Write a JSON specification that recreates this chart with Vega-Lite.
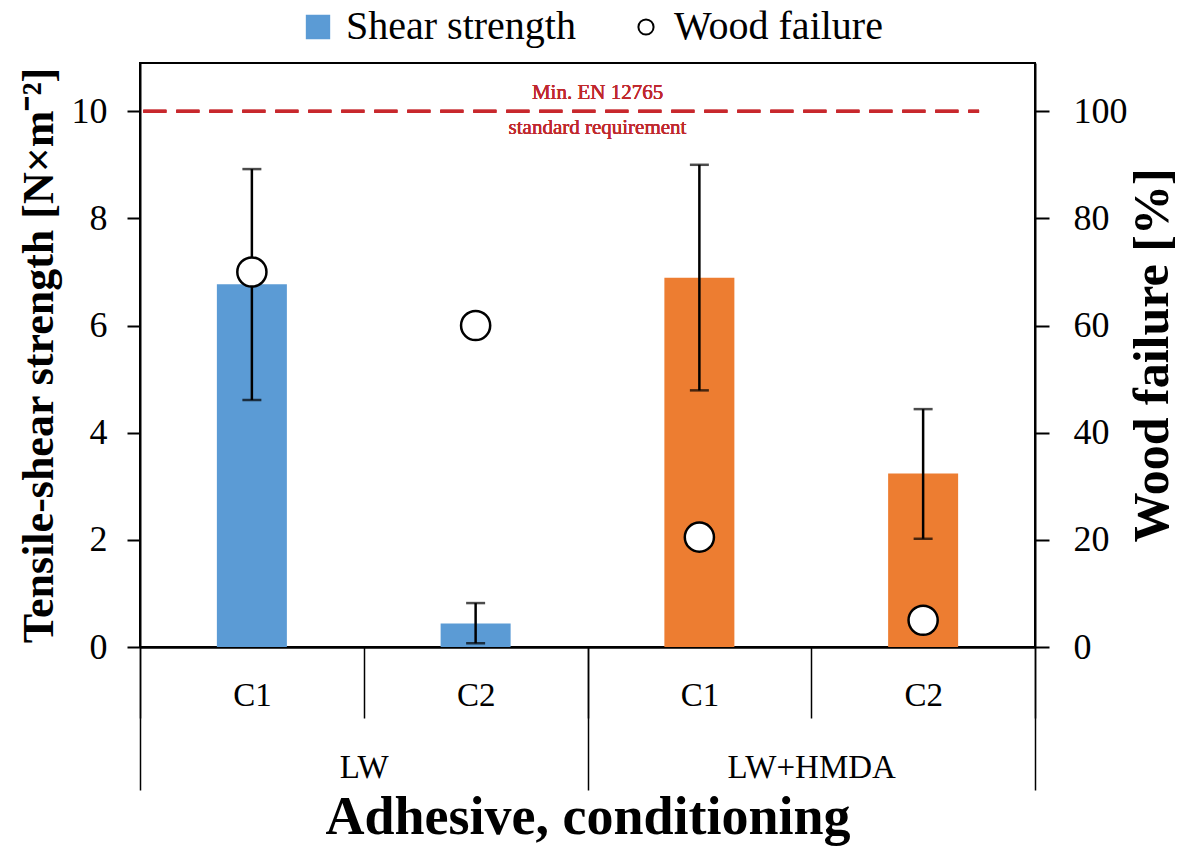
{
  "$schema": "https://vega.github.io/schema/vega-lite/v6.json",
  "width": 895,
  "height": 584,
  "autosize": {"type": "none"},
  "padding": {"left": 140, "top": 63, "right": 146, "bottom": 210},
  "background": "white",
  "config": {
    "font": "Liberation Serif",
    "view": {"stroke": "black", "strokeWidth": 2}
  },
  "data": {
    "values": [
      {"group": "LW", "cond": "C1", "key": "LW|C1", "shear": 6.77, "lo": 4.61, "hi": 8.92, "wf": 70},
      {"group": "LW", "cond": "C2", "key": "LW|C2", "shear": 0.44, "lo": 0.07, "hi": 0.82, "wf": 60},
      {"group": "LW+HMDA", "cond": "C1", "key": "LW+HMDA|C1", "shear": 6.89, "lo": 4.79, "hi": 9.0, "wf": 20.5},
      {"group": "LW+HMDA", "cond": "C2", "key": "LW+HMDA|C2", "shear": 3.24, "lo": 2.02, "hi": 4.44, "wf": 5}
    ]
  },
  "layer": [
    {
      "encoding": {
        "x": {
          "field": "key", "type": "nominal",
          "scale": {"domain": ["LW|C1", "LW|C2", "LW+HMDA|C1", "LW+HMDA|C2"], "paddingInner": 0, "paddingOuter": 0},
          "axis": {
            "orient": "bottom", "title": null,
            "labelExpr": "split(datum.value, '|')[1]",
            "labelAngle": 0, "labelFontSize": 33, "labelColor": "black", "labelFont": "Liberation Serif",
            "labelBaseline": "middle", "labelPadding": -23,
            "tickBand": "extent", "tickSize": 71, "tickWidth": 1.5, "tickColor": "black",
            "domainColor": "black", "domainWidth": 2
          }
        }
      },
      "layer": [
        {
          "mark": {"type": "bar", "width": 70},
          "encoding": {
            "y": {
              "field": "shear", "type": "quantitative",
              "scale": {"domain": [0, 10.9], "nice": false, "zero": true},
              "axis": {
                "orient": "left",
                "title": "Tensile-shear strength [N×m⁻²]",
                "titleFontSize": 44, "titleFontWeight": "bold", "titleColor": "black", "titleFont": "Liberation Serif",
                "titlePadding": 10,
                "values": [0, 2, 4, 6, 8, 10], "grid": false,
                "labelFontSize": 36, "labelColor": "black", "labelPadding": 20,
                "tickSize": 13, "tickWidth": 2, "tickColor": "black",
                "domainColor": "black", "domainWidth": 2
              }
            },
            "color": {
              "field": "group", "type": "nominal",
              "scale": {"domain": ["LW", "LW+HMDA"], "range": ["#5B9BD5", "#ED7D31"]},
              "legend": null
            }
          }
        },
        {
          "mark": {"type": "rule", "color": "black", "strokeWidth": 2.5},
          "encoding": {
            "y": {"field": "lo", "type": "quantitative", "scale": {"domain": [0, 10.9], "nice": false}},
            "y2": {"field": "hi"}
          }
        },
        {
          "mark": {"type": "tick", "color": "black", "size": 19, "thickness": 2.5},
          "encoding": {
            "y": {"field": "hi", "type": "quantitative", "scale": {"domain": [0, 10.9], "nice": false}}
          }
        },
        {
          "mark": {"type": "tick", "color": "black", "size": 19, "thickness": 2.5},
          "encoding": {
            "y": {"field": "lo", "type": "quantitative", "scale": {"domain": [0, 10.9], "nice": false}}
          }
        },
        {
          "mark": {"type": "rule", "color": "#C8282D", "strokeWidth": 3, "strokeDash": [23, 10]},
          "encoding": {
            "x": {"datum": "LW|C1", "bandPosition": 0.015},
            "x2": {"datum": "LW+HMDA|C2", "bandPosition": 0.75},
            "y": {"datum": 10, "type": "quantitative", "scale": {"domain": [0, 10.9], "nice": false}}
          }
        },
        {
          "mark": {"type": "text", "color": "#C0282D", "fontSize": 21, "font": "Liberation Serif", "dy": -18, "dx": 10, "baseline": "middle"},
          "encoding": {
            "x": {"datum": "LW+HMDA|C1", "bandPosition": 0},
            "y": {"datum": 10, "type": "quantitative", "scale": {"domain": [0, 10.9], "nice": false}},
            "text": {"value": "Min. EN 12765"}
          }
        },
        {
          "mark": {"type": "text", "color": "#C0282D", "fontSize": 21, "font": "Liberation Serif", "dy": 17, "dx": 10, "baseline": "middle"},
          "encoding": {
            "x": {"datum": "LW+HMDA|C1", "bandPosition": 0},
            "y": {"datum": 10, "type": "quantitative", "scale": {"domain": [0, 10.9], "nice": false}},
            "text": {"value": "standard requirement"}
          }
        }
      ]
    },
    {
      "mark": {"type": "point", "shape": "circle", "filled": true, "fill": "white", "stroke": "black", "strokeWidth": 2.5, "size": 850, "opacity": 1},
      "encoding": {
        "x": {
          "field": "key", "type": "nominal",
          "scale": {"domain": ["LW|C1", "LW|C2", "LW+HMDA|C1", "LW+HMDA|C2"], "paddingInner": 0, "paddingOuter": 0},
          "axis": null
        },
        "y": {
          "field": "wf", "type": "quantitative",
          "scale": {"domain": [0, 109], "nice": false, "zero": true},
          "axis": {
            "orient": "right",
            "title": "Wood failure [%]",
            "titleFontSize": 50, "titleFontWeight": "bold", "titleColor": "black", "titleFont": "Liberation Serif",
            "titleAngle": 270, "titleBaseline": "top", "titlePadding": 0,
            "values": [0, 20, 40, 60, 80, 100], "grid": false,
            "labelFontSize": 36, "labelColor": "black", "labelPadding": 24,
            "tickSize": 14, "tickWidth": 2, "tickColor": "black",
            "domainColor": "black", "domainWidth": 2
          }
        }
      }
    },
    {
      "mark": {"type": "tick", "opacity": 0},
      "encoding": {
        "x": {
          "field": "group", "type": "nominal",
          "scale": {"domain": ["LW", "LW+HMDA"], "paddingInner": 0, "paddingOuter": 0},
          "axis": {
            "orient": "bottom",
            "title": "Adhesive, conditioning",
            "titleFontSize": 54, "titleFontWeight": "bold", "titleColor": "black", "titleFont": "Liberation Serif",
            "titlePadding": 0,
            "labelAngle": 0, "labelFontSize": 33, "labelColor": "black", "labelFont": "Liberation Serif",
            "labelBaseline": "middle", "labelPadding": -23,
            "tickBand": "extent", "tickSize": 143, "tickWidth": 1.5, "tickColor": "black",
            "domainColor": "black", "domainWidth": 2
          }
        }
      }
    },
    {
      "data": {"values": [{"item": "Shear strength"}, {"item": "Wood failure"}]},
      "transform": [{"filter": "datum.item === 'none'"}],
      "mark": {"type": "point", "filled": true, "strokeWidth": 2, "opacity": 1},
      "encoding": {
        "shape": {
          "field": "item", "type": "nominal",
          "scale": {"domain": ["Shear strength", "Wood failure"], "range": ["square", "circle"]},
          "legend": {
            "orient": "none", "legendX": 158, "legendY": -56,
            "direction": "horizontal", "title": null,
            "labelFontSize": 40, "labelFont": "Liberation Serif", "labelColor": "black", "labelLimit": 0,
            "columnPadding": 50, "labelOffset": 8, "symbolStrokeWidth": 2, "symbolOpacity": 1
          }
        },
        "size": {
          "field": "item", "type": "ordinal",
          "scale": {"domain": ["Shear strength", "Wood failure"], "range": [500, 230]}
        },
        "fill": {
          "field": "item", "type": "nominal",
          "scale": {"domain": ["Shear strength", "Wood failure"], "range": ["#5B9BD5", "white"]}
        },
        "stroke": {
          "field": "item", "type": "nominal",
          "scale": {"domain": ["Shear strength", "Wood failure"], "range": ["#5B9BD5", "black"]}
        }
      }
    }
  ],
  "resolve": {"scale": {"x": "independent", "y": "independent"}}
}
